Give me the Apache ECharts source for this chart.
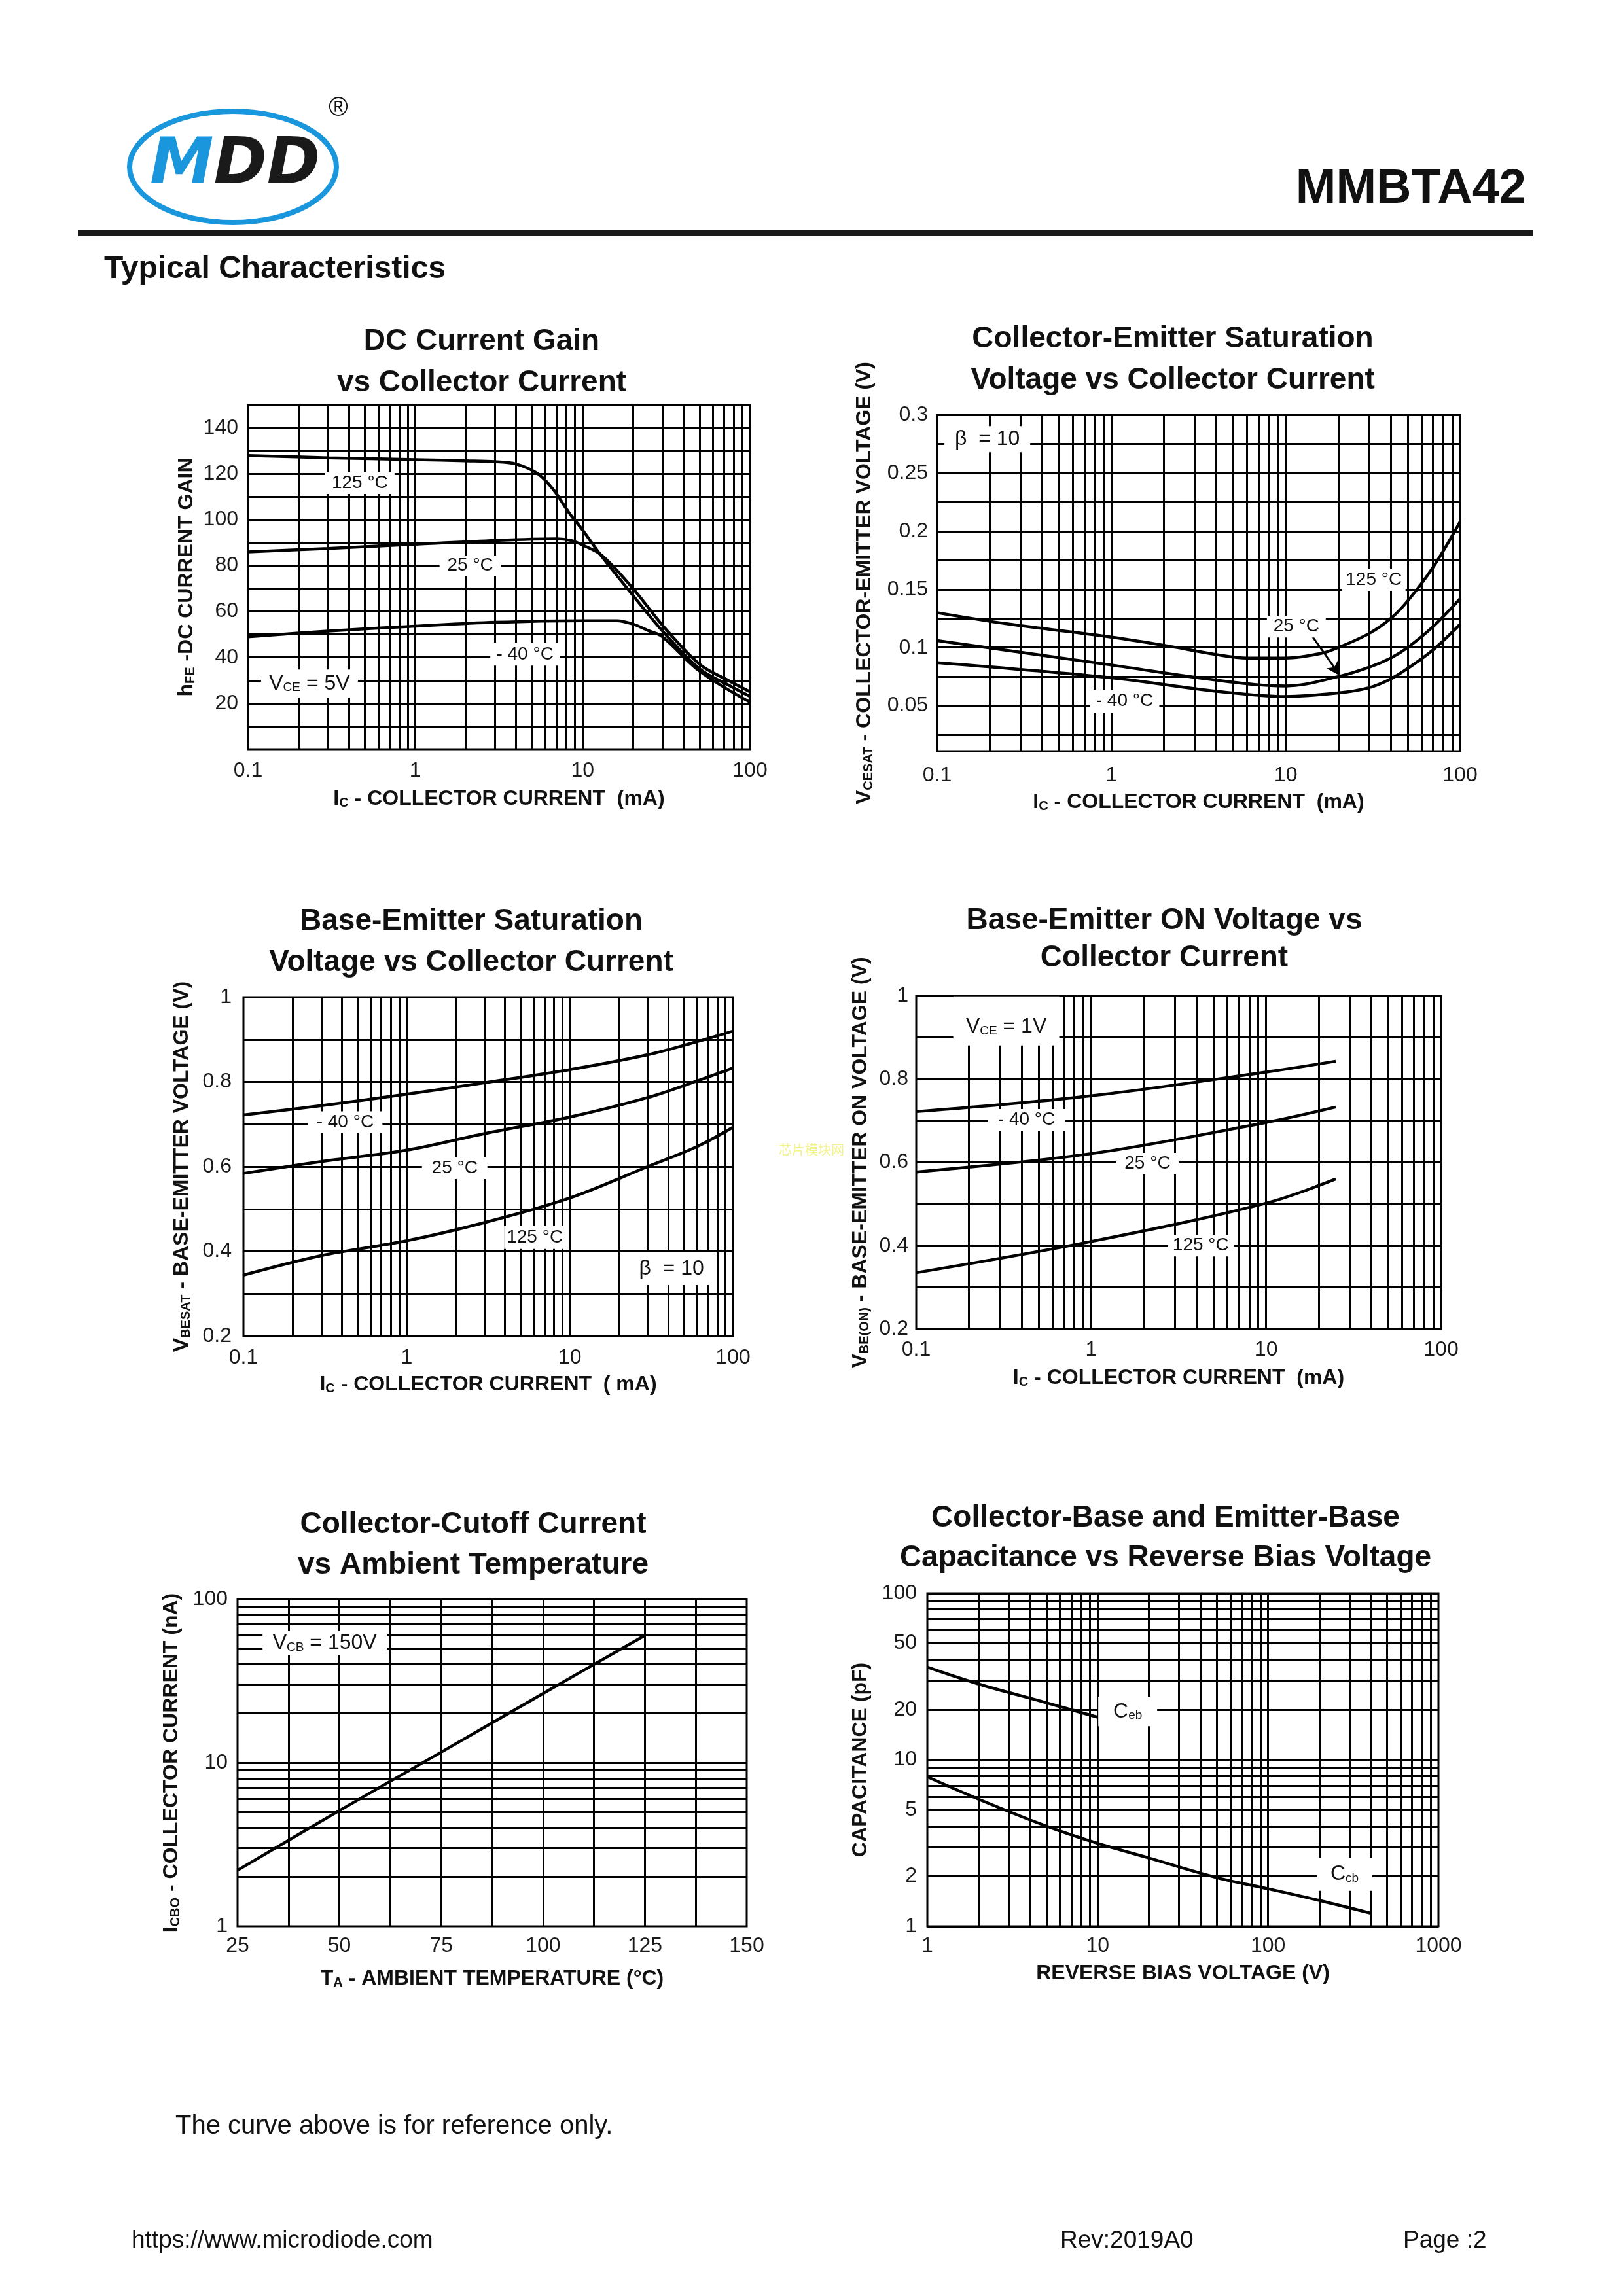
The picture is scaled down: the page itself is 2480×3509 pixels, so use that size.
<!DOCTYPE html>
<html><head><meta charset="utf-8">
<script src="https://cdn.jsdelivr.net/npm/echarts@6/dist/echarts.min.js"></script>
<style>html,body{margin:0;padding:0;background:#fff}#c{width:2480px;height:3509px}</style>
</head><body><div id="c"></div>
<script>
const FONT = 'Liberation Sans';

// ---------- Chart 1: DC current gain vs collector current ----------
const gainIc125 = [0.1, 0.3, 1, 2, 3, 4, 5.4, 6.7, 8.3, 10, 13, 20, 30, 50, 74, 100];
const gain125   = [128, 127, 126.2, 125.7, 125.3, 124.3, 120, 113, 103, 95.5, 84, 67, 51.5, 35, 28, 23];
const gainIc25  = [0.1, 0.3, 1, 3, 7, 8.5, 10, 13, 20, 30, 50, 74, 100];
const gain25    = [86, 87.5, 89.3, 91, 91.7, 91, 89, 84.5, 70, 54, 37, 30, 25];
const gainIcM40 = [0.1, 0.3, 1, 3, 10, 16, 20, 25, 30, 50, 100];
const gainM40   = [49, 51.5, 53.6, 55.3, 56, 56, 54.5, 51.5, 49, 34, 20.5];
const gainTicks = [20, 40, 60, 80, 100, 120, 140];

// ---------- Chart 2: VCE(sat) vs collector current ----------
const vceIc125 = [0.1, 0.25, 1, 2, 4, 6, 10, 16, 20, 30, 40, 50, 70, 100];
const vce125   = [0.13, 0.1205, 0.109, 0.102, 0.094, 0.091, 0.091, 0.095, 0.1, 0.112, 0.125, 0.14, 0.169, 0.208];
const vceIc    = [0.1, 1, 4, 10, 20, 30, 40, 50, 70, 100];
const vce25    = [0.106, 0.085, 0.072, 0.067, 0.075, 0.083, 0.091, 0.1, 0.118, 0.142];
const vceM40   = [0.087, 0.074, 0.0625, 0.058, 0.061, 0.0655, 0.073, 0.082, 0.098, 0.12];
const vceTicks = [0.05, 0.1, 0.15, 0.2, 0.25, 0.3];

// ---------- Chart 3: VBE(sat) vs collector current ----------
const vbesatIc  = [0.1, 0.3, 1, 3, 10, 30, 60, 100];
const vbesatM40 = [0.722, 0.744, 0.771, 0.798, 0.829, 0.864, 0.895, 0.92];
const vbesat25  = [0.584, 0.612, 0.639, 0.678, 0.717, 0.763, 0.802, 0.833];
const vbesat125 = [0.344, 0.39, 0.425, 0.468, 0.526, 0.6, 0.647, 0.693];

// ---------- Chart 4: VBE(on) vs collector current ----------
const vbeonIc  = [0.1, 1, 10, 25];
const vbeonM40 = [0.722, 0.76, 0.817, 0.843];
const vbeon25  = [0.577, 0.621, 0.696, 0.733];
const vbeon125 = [0.335, 0.41, 0.502, 0.56];

// ---------- Chart 5: ICBO vs ambient temperature ----------
const icboTa = [25, 50, 75, 100, 125];
const icbo   = [2.2, 5.1, 11.6, 26.5, 60];

// ---------- Chart 6: capacitance vs reverse bias ----------
const cebV  = [1, 2, 5, 10];
const ceb   = [36, 28.5, 22, 18];
const ccbV  = [1, 2, 5, 10, 20, 50, 100, 200, 400];
const ccb   = [7.9, 5.8, 4.0, 3.15, 2.57, 1.96, 1.68, 1.43, 1.2];
const capTicks = [1, 2, 5, 10, 20, 50, 100];

// ---------- helpers ----------
function zip(xs, ys) { return xs.map((x, i) => [x, ys[i]]); }
function logGrid(lo, hi) {
  const out = [];
  for (let d = lo; d < hi * 0.999; d *= 10)
    for (let k = 1; k <= 9; k++) { const v = +(d * k).toPrecision(6); if (v > lo * 1.0001 && v < hi * 0.9999) out.push(v); }
  return out;
}
function linGrid(lo, hi, step) {
  const out = [];
  for (let v = lo; v <= hi + 1e-9; v += step) out.push(+v.toFixed(6));
  return out;
}
const plainNum = v => String(+(+v).toPrecision(6));
const subRich = {
  sub: { fontFamily: FONT, fontSize: 20, fontWeight: 'bold', verticalAlign: 'bottom', lineHeight: 22, color: '#111' }
};
const subRichN = {
  sub: { fontFamily: FONT, fontSize: 19, verticalAlign: 'bottom', lineHeight: 20, color: '#111' }
};
function mark(coord, text, box, fontSize, offset) {
  return {
    coord, symbol: 'rect', symbolSize: box, itemStyle: { color: '#fff' },
    label: { show: true, position: 'inside', formatter: text, color: '#111', fontFamily: FONT,
             fontSize: fontSize || 28, offset: offset || [0, 0], rich: subRichN }
  };
}
function tickLine(v, dist) {
  return { yAxis: v, label: { show: true, position: 'start', formatter: String(v), distance: dist,
           fontFamily: FONT, fontSize: 32, color: '#1a1a1a' } };
}

const charts = [
  { // 1
    box: { left: 379, top: 619, width: 767, height: 526 },
    title: 'DC Current Gain\nvs Collector Current', titleX: 731, titleTop: 486, titleLH: 63,
    x: { type: 'log', min: 0.1, max: 100 }, y: { type: 'value', min: 0, max: 150, interval: 10 },
    yFmt: v => gainTicks.includes(v) ? String(v) : '',
    xName: 'I{sub|C} - COLLECTOR CURRENT  (mA)', yName: 'h{sub|FE} -DC CURRENT GAIN',
    xGap: 60, yGap: 78, xMargin: 17, yMargin: 15,
    xGrid: logGrid(0.1, 100), yGrid: linGrid(10, 140, 10),
    curves: [zip(gainIc125, gain125), zip(gainIc25, gain25), zip(gainIcM40, gainM40)],
    marks: [
      mark([0.466, 116.1], '125 °C', [106, 34]),
      mark([2.13, 80], '25 °C', [94, 31]),
      mark([4.52, 41.4], '- 40 °C', [106, 35]),
      mark([0.233, 28.6], 'V{sub|CE} = 5V', [148, 43], 32)
    ]
  },
  { // 2
    box: { left: 1432, top: 634, width: 799, height: 514 },
    title: 'Collector-Emitter Saturation\nVoltage vs Collector Current', titleX: 1787, titleTop: 482, titleLH: 63,
    x: { type: 'log', min: 0.1, max: 100 }, y: { type: 'value', min: 0.011, max: 0.3 },
    yLabelsOff: true, yTicks: vceTicks, yTickDist: 14,
    xName: 'I{sub|C} - COLLECTOR CURRENT  (mA)', yName: 'V{sub|CESAT} - COLLECTOR-EMITTER VOLTAGE (V)',
    xGap: 62, yGap: 95, xMargin: 21, yMargin: 14,
    xGrid: logGrid(0.1, 100), yGrid: linGrid(0.025, 0.275, 0.025),
    curves: [zip(vceIc125, vce125), zip(vceIc, vce25), zip(vceIc, vceM40)],
    marks: [
      mark([0.194, 0.279], 'β  = 10', [131, 40], 32),
      mark([32, 0.158], '125 °C', [97, 33]),
      mark([11.5, 0.118], '25 °C', [90, 33]),
      mark([1.19, 0.054], '- 40 °C', [106, 35])
    ],
    arrow: [[14.3, 0.109], [20.6, 0.0755]]
  },
  { // 3
    box: { left: 372, top: 1524, width: 748, height: 518 },
    title: 'Base-Emitter Saturation\nVoltage vs Collector Current', titleX: 715, titleTop: 1372, titleLH: 63,
    x: { type: 'log', min: 0.1, max: 100 }, y: { type: 'value', min: 0.2, max: 1, interval: 0.2 },
    xName: 'I{sub|C} - COLLECTOR CURRENT  ( mA)', yName: 'V{sub|BESAT} - BASE-EMITTER VOLTAGE (V)',
    xGap: 58, yGap: 78, xMargin: 17, yMargin: 18,
    xGrid: logGrid(0.1, 100), yGrid: linGrid(0.3, 0.9, 0.1),
    curves: [zip(vbesatIc, vbesatM40), zip(vbesatIc, vbesat25), zip(vbesatIc, vbesat125)],
    marks: [
      mark([0.42, 0.705], '- 40 °C', [114, 33]),
      mark([1.97, 0.596], '25 °C', [100, 33]),
      mark([6.1, 0.433], '125 °C', [94, 35]),
      mark([42, 0.359], 'β  = 10', [117, 50], 32)
    ]
  },
  { // 4
    box: { left: 1400, top: 1522, width: 802, height: 509 },
    title: 'Base-Emitter ON Voltage vs\nCollector Current', titleX: 1774, titleTop: 1374, titleLH: 57,
    x: { type: 'log', min: 0.1, max: 100 }, y: { type: 'value', min: 0.2, max: 1, interval: 0.2 },
    xName: 'I{sub|C} - COLLECTOR CURRENT  (mA)', yName: 'V{sub|BE(ON)} - BASE-EMITTER ON VOLTAGE (V)',
    xGap: 59, yGap: 69, xMargin: 16, yMargin: 12,
    xGrid: logGrid(0.1, 100), yGrid: linGrid(0.3, 0.9, 0.1),
    curves: [zip(vbeonIc, vbeonM40), zip(vbeonIc, vbeon25), zip(vbeonIc, vbeon125)],
    marks: [
      mark([0.327, 0.94], 'V{sub|CE} = 1V', [162, 75], 32, [0, 9]),
      mark([0.427, 0.702], '- 40 °C', [119, 33]),
      mark([2.1, 0.597], '25 °C', [95, 33]),
      mark([4.23, 0.4], '125 °C', [101, 33])
    ]
  },
  { // 5
    box: { left: 363, top: 2444, width: 778, height: 500 },
    title: 'Collector-Cutoff Current\nvs Ambient Temperature', titleX: 718, titleTop: 2294, titleLH: 62,
    x: { type: 'value', min: 25, max: 150, interval: 25 }, y: { type: 'log', min: 1, max: 100 },
    xName: 'T{sub|A} - AMBIENT TEMPERATURE (°C)', yName: 'I{sub|CBO} - COLLECTOR CURRENT (nA)',
    xGap: 64, yGap: 85, xMargin: 14, yMargin: 15,
    xGrid: linGrid(37.5, 137.5, 12.5), yGrid: logGrid(1, 100),
    curves: [zip(icboTa, icbo)],
    marks: [ mark([46.4, 54], 'V{sub|CB} = 150V', [190, 37], 32) ]
  },
  { // 6
    box: { left: 1417, top: 2435, width: 781, height: 509 },
    title: 'Collector-Base and Emitter-Base\nCapacitance vs Reverse Bias Voltage', titleX: 1776, titleTop: 2285, titleLH: 61,
    x: { type: 'log', min: 1, max: 1000 }, y: { type: 'log', min: 1, max: 100 },
    yLabelsOff: true, yTicks: capTicks, yTickDist: 16,
    xName: 'REVERSE BIAS VOLTAGE (V)', yName: 'CAPACITANCE (pF)',
    xGap: 56, yGap: 86, xMargin: 14, yMargin: 16,
    xGrid: logGrid(1, 1000), yGrid: logGrid(1, 100),
    curves: [zip(cebV, ceb), zip(ccbV, ccb)],
    marks: [
      mark([15, 19.5], 'C{sub|eb}', [90, 45], 32),
      mark([281, 2.05], 'C{sub|cb}', [84, 50], 32)
    ]
  }
];

const nameStyle = { fontFamily: FONT, fontSize: 32, fontWeight: 'bold', color: '#111', rich: subRich };
const labelStyle = { fontFamily: FONT, fontSize: 32, color: '#1a1a1a' };

const grid = [], xAxis = [], yAxis = [], title = [], series = [];
charts.forEach((c, i) => {
  grid.push(Object.assign({ show: true, borderColor: '#000', borderWidth: 3, backgroundColor: 'transparent',
    containLabel: false, outerBoundsMode: 'none' }, c.box));
  title.push({ text: c.title, left: c.titleX, top: c.titleTop, textAlign: 'center',
    textStyle: { fontFamily: FONT, fontSize: 46, fontWeight: 'bold', color: '#111', lineHeight: c.titleLH } });
  xAxis.push(Object.assign({ gridIndex: i, logBase: 10,
    axisLine: { show: false }, axisTick: { show: false }, splitLine: { show: false },
    axisLabel: Object.assign({ margin: c.xMargin, showMinLabel: true, showMaxLabel: true, hideOverlap: false,
      formatter: plainNum }, labelStyle),
    name: c.xName, nameLocation: 'middle', nameGap: c.xGap, nameTextStyle: nameStyle }, c.x));
  yAxis.push(Object.assign({ gridIndex: i, logBase: 10,
    axisLine: { show: false }, axisTick: { show: false }, splitLine: { show: false },
    axisLabel: Object.assign({ show: !c.yLabelsOff, margin: c.yMargin, showMinLabel: true, showMaxLabel: true,
      formatter: c.yFmt || plainNum }, labelStyle),
    name: c.yName, nameLocation: 'middle', nameGap: c.yGap, nameRotate: 90, nameTextStyle: nameStyle }, c.y));

  const gridLines = [
    ...c.xGrid.map(v => ({ xAxis: v })),
    ...c.yGrid.map(v => ({ yAxis: v })),
    ...(c.yTicks ? c.yTicks.map(v => tickLine(v, c.yTickDist)) : [])
  ];
  series.push({ type: 'line', xAxisIndex: i, yAxisIndex: i, data: [[c.x.min, c.y.min]], symbol: 'none',
    lineStyle: { width: 0 }, z: 1, silent: true, animation: false, clip: false,
    markLine: { silent: true, animation: false, symbol: ['none', 'none'], precision: 6,
      lineStyle: { color: '#000', width: 3, type: 'solid' }, label: { show: false },
      emphasis: { disabled: true }, data: gridLines } });
  const lab = { type: 'line', xAxisIndex: i, yAxisIndex: i, data: [[c.x.min, c.y.min]], symbol: 'none',
    lineStyle: { width: 0 }, z: 2, silent: true, animation: false, clip: false,
    markPoint: { silent: true, animation: false, data: c.marks } };
  if (c.arrow) {
    lab.markLine = { silent: true, animation: false, symbol: ['none', 'arrow'], symbolSize: [16, 22],
      lineStyle: { color: '#000', width: 3, type: 'solid' }, label: { show: false },
      data: [[{ coord: c.arrow[0] }, { coord: c.arrow[1] }]] };
  }
  series.push(lab);
  c.curves.forEach(cv => series.push({ type: 'line', xAxisIndex: i, yAxisIndex: i, data: cv, smooth: 0.35,
    symbol: 'none', lineStyle: { color: '#000', width: 4.5 }, z: 3, silent: true, animation: false }));
});

const graphic = [
  { type: 'ellipse', shape: { cx: 356, cy: 255, rx: 158, ry: 85 }, style: { fill: '#fff', stroke: '#1a96dc', lineWidth: 8 } },
  { type: 'text', x: 229, y: 255, style: { text: '{m|M}{d|DD}', fontFamily: 'DejaVu Sans', fontSize: 98, fontWeight: 'bold',
      fontStyle: 'italic', verticalAlign: 'middle', align: 'left',
      rich: { m: { fill: '#1a96dc', fontFamily: 'DejaVu Sans', fontSize: 98, fontWeight: 'bold', fontStyle: 'italic' },
              d: { fill: '#1a1a1a', fontFamily: 'DejaVu Sans', fontSize: 98, fontWeight: 'bold', fontStyle: 'italic' } } } },
  { type: 'text', x: 517, y: 166, style: { text: '®', fontFamily: FONT, fontSize: 40, fill: '#111', align: 'center', verticalAlign: 'middle' } },
  { type: 'text', x: 2332, y: 290, style: { text: 'MMBTA42', fontFamily: FONT, fontSize: 74, fontWeight: 'bold', fill: '#111', align: 'right', verticalAlign: 'middle' } },
  { type: 'rect', shape: { x: 119, y: 352, width: 2224, height: 9 }, style: { fill: '#1a1a1a' } },
  { type: 'text', x: 159, y: 412, style: { text: 'Typical Characteristics', fontFamily: FONT, fontSize: 48, fontWeight: 'bold', fill: '#111', align: 'left', verticalAlign: 'middle' } },
  { type: 'text', x: 1240, y: 1757, style: { text: '芯片模块网', fontFamily: 'Noto Sans CJK SC', fontSize: 20, fill: '#f2f28a', align: 'center', verticalAlign: 'middle' } },
  { type: 'text', x: 268, y: 3250, style: { text: 'The curve above is for reference only.', fontFamily: FONT, fontSize: 40, fill: '#111', align: 'left', verticalAlign: 'middle' } },
  { type: 'text', x: 201, y: 3425, style: { text: 'https://www.microdiode.com', fontFamily: FONT, fontSize: 37, fill: '#111', align: 'left', verticalAlign: 'middle' } },
  { type: 'text', x: 1620, y: 3425, style: { text: 'Rev:2019A0', fontFamily: FONT, fontSize: 37, fill: '#111', align: 'left', verticalAlign: 'middle' } },
  { type: 'text', x: 2144, y: 3425, style: { text: 'Page :2', fontFamily: FONT, fontSize: 37, fill: '#111', align: 'left', verticalAlign: 'middle' } }
];

const chart = echarts.init(document.getElementById('c'), null, { renderer: 'canvas', width: 2480, height: 3509 });
chart.setOption({
  backgroundColor: '#fff',
  animation: false,
  title, grid, xAxis, yAxis, series, graphic
});
</script></body></html>
